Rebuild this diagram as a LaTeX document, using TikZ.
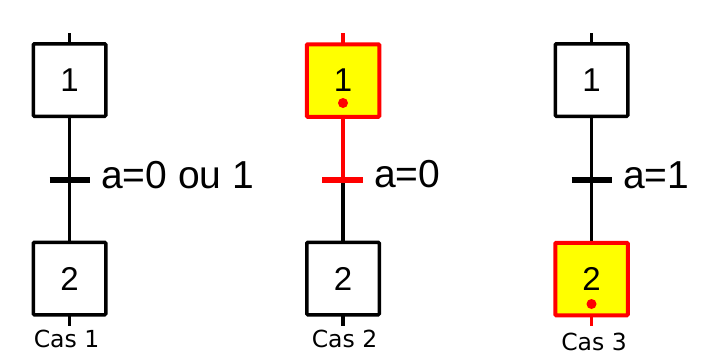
\documentclass[tikz,border=0pt]{standalone}
\usepackage{fontspec}
\setmainfont{Liberation Sans}
\newfontfamily\casfont{DejaVu Sans}
\definecolor{actred}{RGB}{255,0,0}
\definecolor{actyellow}{RGB}{255,255,0}
\begin{document}
\begin{tikzpicture}[x=1pt,y=-1pt,
  stepbox/.style={draw=black,line width=3.5pt,fill=white,minimum size=72.5pt,
    inner sep=0pt,rounded corners=1pt,font=\fontsize{33}{33}\selectfont},
  activebox/.style={stepbox,draw=actred,fill=actyellow,line width=4pt},
  link/.style={line width=3.5pt},
  activelink/.style={link,draw=actred,line width=4.5pt},
  tbar/.style={line width=6pt},
  cond/.style={anchor=base west,inner sep=0pt,font=\fontsize{39}{39}\selectfont},
  caslabel/.style={anchor=base,inner sep=0pt,font=\casfont\fontsize{23.5}{23.5}\selectfont},
  token/.style={circle,fill=actred,inner sep=0pt,minimum size=10pt}]
\useasboundingbox (0,0) rectangle (710,362);

% ---- Cas 1 : nothing active
\coordinate (a-top) at (69.5,33);
\coordinate (a-t) at (69.5,180);
\coordinate (a-bot) at (69.5,326);
\draw[link] (a-top) -- (a-bot);
\draw[tbar] ([xshift=-20pt]a-t) -- ([xshift=20pt]a-t);
\node[stepbox] (a1) at (69.5,80) {1};
\node[stepbox] (a2) at (69.5,278.5) {2};
\node[cond] (ac) at (101,188) {a=0 ou 1};
\node[caslabel] (al) at (66.5,347.5) {Cas 1};

% ---- Cas 2 : step 1 active, transition not yet fired
\coordinate (b-top) at (343,33);
\coordinate (b-t) at (343,180);
\coordinate (b-bot) at (343,326);
\draw[link] (b-t) -- (b-bot);
\draw[activelink] (b-top) -- (b-t);
\draw[tbar,draw=actred] ([xshift=-21pt]b-t) -- ([xshift=20pt]b-t);
\node[activebox] (b1) at (343,80.5) {1};
\node[token] (bd) at (343,103) {};
\node[stepbox] (b2) at (343,278.5) {2};
\node[cond] (bc) at (374,187.5) {a=0};
\node[caslabel] (bl) at (344.5,347.5) {Cas 2};

% ---- Cas 3 : transition fired, step 2 active
\coordinate (c-top) at (591.5,33);
\coordinate (c-t) at (591.5,180);
\coordinate (c-bot) at (591.5,326);
\draw[link] (c-top) -- (c-bot);
\draw[activelink,line width=3.5pt] (591.5,300) -- (c-bot);
\draw[tbar] ([xshift=-20pt]c-t) -- ([xshift=20pt]c-t);
\node[stepbox] (c1) at (591.5,80) {1};
\node[activebox] (c2) at (591.5,279) {2};
\node[token] (cd) at (591.5,304) {};
\node[cond] (cc) at (623,188) {a=1};
\node[caslabel] (cl) at (594,350) {Cas 3};
\end{tikzpicture}
\end{document}
